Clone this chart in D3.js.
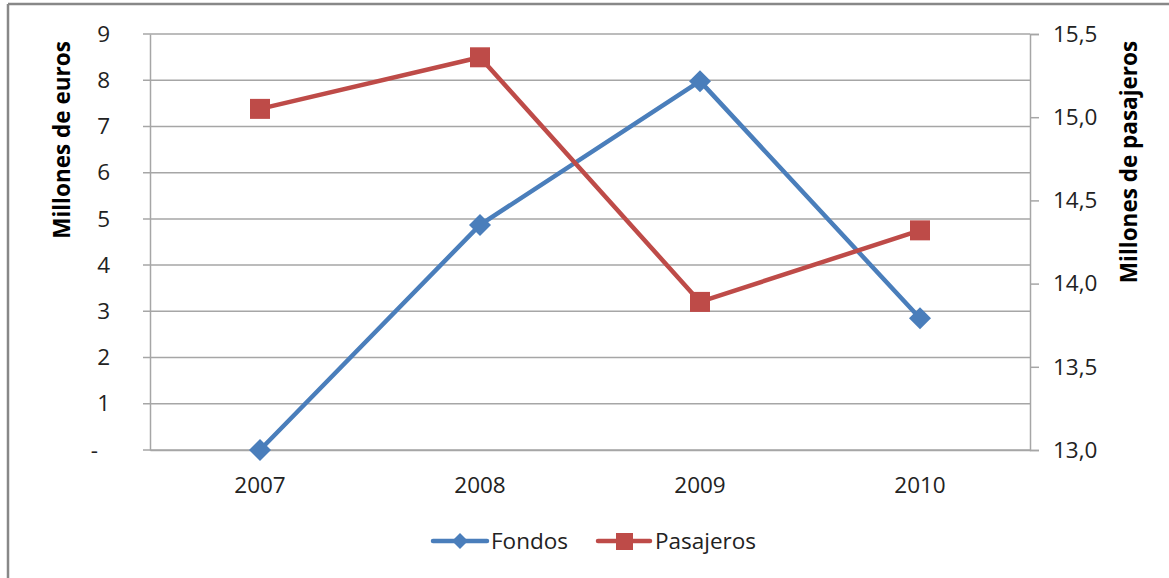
<!DOCTYPE html>
<html>
<head>
<meta charset="utf-8">
<script src="https://cdn.jsdelivr.net/npm/d3@7"></script>
<style>
  body { margin: 0; background: #fff; }
  text { font-family: "Open Sans", "Liberation Sans", sans-serif; }
</style>
</head>
<body>
<div id="chart"></div>
<script>
// data
var years = ["2007", "2008", "2009", "2010"];
var fondos = [0, 4.87, 7.98, 2.85];        // millones de euros (left axis)
var pasajeros = [15.05, 15.36, 13.89, 14.32]; // millones de pasajeros (right axis)
var leftTicks = [0, 1, 2, 3, 4, 5, 6, 7, 8, 9];
var rightTicks = [13.0, 13.5, 14.0, 14.5, 15.0, 15.5];

var W = 1169, H = 578;
var margin = {top: 34, right: 139, bottom: 128, left: 150},
    width = W - margin.left - margin.right,
    height = H - margin.top - margin.bottom;

var blue = "#4a7ebb", red = "#be4b48", grid = "#a6a6a6", txt = "#222";
var fs = 22.5;

var svg = d3.select("#chart")
  .append("svg")
    .attr("width", W)
    .attr("height", H);

// frame (only top and left edges are visible)
svg.append("line").attr("x1", 8).attr("x2", W).attr("y1", 4).attr("y2", 4)
  .attr("stroke", "#888").attr("stroke-width", 2.5);
svg.append("line").attr("x1", 8).attr("x2", 8).attr("y1", 4).attr("y2", H)
  .attr("stroke", "#888").attr("stroke-width", 2.5);

var g = svg.append("g")
    .attr("transform", "translate(" + margin.left + "," + margin.top + ")");

var x = d3.scaleBand().domain(years).range([0, width]);
var y = d3.scaleLinear().domain([0, 9]).range([height, 0]);
var y2 = d3.scaleLinear().domain([13, 15.5]).range([height, 0]);

// gridlines + left ticks
g.append("g")
  .selectAll("line")
  .data(leftTicks)
  .enter()
  .append("line")
    .attr("x1", -7)
    .attr("x2", width)
    .attr("y1", d => y(d))
    .attr("y2", d => y(d))
    .attr("stroke", grid)
    .attr("stroke-width", 1.5);

// left axis
var leftAxis = g.append("g")
  .call(d3.axisLeft(y).tickValues(leftTicks).tickSize(0).tickPadding(40)
    .tickFormat(d => d === 0 ? "-" : d));
leftAxis.select(".domain").attr("stroke", grid).attr("stroke-width", 1.5);
leftAxis.selectAll("text").attr("font-size", fs).attr("fill", txt);
leftAxis.selectAll(".tick").filter(d => d === 0).select("text").attr("dx", -12);

// right axis
var rightAxis = g.append("g")
  .attr("transform", "translate(" + width + ",0)")
  .call(d3.axisRight(y2).tickValues(rightTicks).tickSize(9).tickPadding(14)
    .tickFormat(d => d3.format(".1f")(d).replace(".", ",")));
rightAxis.select(".domain").attr("stroke", grid).attr("stroke-width", 1.5);
rightAxis.selectAll("line").attr("stroke", grid).attr("stroke-width", 1.5);
rightAxis.selectAll("text").attr("font-size", fs).attr("fill", txt);

// bottom labels
var bottomAxis = g.append("g")
  .attr("transform", "translate(0," + height + ")")
  .call(d3.axisBottom(x).tickSize(0).tickPadding(27));
bottomAxis.select(".domain").attr("stroke", grid).attr("stroke-width", 1.5);
bottomAxis.selectAll("text").attr("font-size", fs).attr("fill", txt);

// axis titles
svg.append("text")
  .attr("transform", "translate(70,140) rotate(-90)")
  .attr("text-anchor", "middle")
  .attr("font-size", 22.5)
  .attr("font-weight", "bold")
  .attr("fill", "#000")
  .text("Millones de euros");

svg.append("text")
  .attr("transform", "translate(1137,162) rotate(-90)")
  .attr("text-anchor", "middle")
  .attr("font-size", 22.5)
  .attr("font-weight", "bold")
  .attr("fill", "#000")
  .text("Millones de pasajeros");

var cx = d => x(d) + x.bandwidth() / 2;

// Fondos line
g.append("path")
  .datum(fondos)
  .attr("fill", "none")
  .attr("stroke", blue)
  .attr("stroke-width", 4.5)
  .attr("stroke-linejoin", "round")
  .attr("d", d3.line().x((d, i) => cx(years[i])).y(d => y(d)));

g.selectAll(".diamond")
  .data(fondos)
  .enter()
  .append("path")
    .attr("class", "diamond")
    .attr("transform", (d, i) => "translate(" + cx(years[i]) + "," + y(d) + ")")
    .attr("d", "M0,-11L11,0L0,11L-11,0Z")
    .attr("fill", blue);

// Pasajeros line
g.append("path")
  .datum(pasajeros)
  .attr("fill", "none")
  .attr("stroke", red)
  .attr("stroke-width", 4.5)
  .attr("stroke-linejoin", "round")
  .attr("d", d3.line().x((d, i) => cx(years[i])).y(d => y2(d)));

g.selectAll(".sq")
  .data(pasajeros)
  .enter()
  .append("rect")
    .attr("class", "sq")
    .attr("x", (d, i) => cx(years[i]) - 10)
    .attr("y", d => y2(d) - 10)
    .attr("width", 20)
    .attr("height", 20)
    .attr("fill", red);

// legend
var legend = svg.append("g").attr("transform", "translate(0,541)");
legend.append("line").attr("x1", 433).attr("x2", 487)
  .attr("stroke", blue).attr("stroke-width", 4.5).attr("stroke-linecap", "round");
legend.append("path").attr("transform", "translate(460,0)")
  .attr("d", "M0,-8L8,0L0,8L-8,0Z").attr("fill", blue);
legend.append("text").attr("x", 491).attr("y", 8)
  .attr("font-size", fs).attr("fill", txt).text("Fondos");

legend.append("line").attr("x1", 598).attr("x2", 650)
  .attr("stroke", red).attr("stroke-width", 4.5).attr("stroke-linecap", "round");
legend.append("rect").attr("x", 616).attr("y", -8).attr("width", 17).attr("height", 17)
  .attr("fill", red);
legend.append("text").attr("x", 655).attr("y", 8)
  .attr("font-size", fs).attr("fill", txt).text("Pasajeros");
</script>
</body>
</html>
